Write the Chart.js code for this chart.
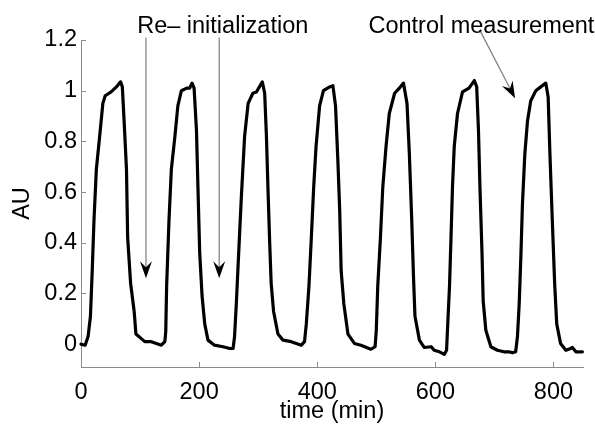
<!DOCTYPE html>
<html><head><meta charset="utf-8">
<script src="https://cdn.jsdelivr.net/npm/chart.js@4"></script>
<style>html,body{margin:0;padding:0;background:#fff}#wrap{width:595px;height:424px;position:relative}</style>
</head><body><div id="wrap"><canvas id="c"></canvas></div>
<script>
// ---- data ----
const timeMin = [0, 7, 12, 16, 19, 22, 26, 32, 37, 41, 51, 60, 67, 70, 73, 77, 79, 84, 90, 93, 108, 119, 136, 142, 143.5, 145, 149, 153, 159, 164, 170, 179, 184, 188, 191.5, 195.5, 198, 201, 205, 209.5, 215, 226, 240.5, 252, 257.5, 260, 263, 267, 271.5, 277, 283, 291, 297, 307, 311, 314, 316.5, 319.5, 322, 326, 333.5, 342, 356, 373, 378.5, 381.5, 386, 390, 394, 398, 404, 410.5, 421, 426.5, 431, 435, 438, 440.5, 445, 452, 463, 474, 491, 498, 500, 502.5, 507, 511, 516.5, 522, 531, 539, 546, 552, 556, 560, 563, 565.5, 573, 581, 593, 598, 607, 615, 619, 621, 624, 626.5, 629, 632, 637.5, 646, 657, 666, 670, 673, 675.5, 679, 681, 685.5, 694, 705, 716, 725, 730.5, 736, 739, 742, 745, 747.5, 751.5, 756, 761.5, 770, 778.5, 787, 791, 794, 798, 802, 805.5, 812, 821, 828, 832, 838, 849];
const au = [0.0, -0.004, 0.03, 0.11, 0.29, 0.49, 0.69, 0.83, 0.95, 0.98, 0.995, 1.015, 1.035, 1.015, 0.88, 0.69, 0.42, 0.24, 0.13, 0.04, 0.01, 0.01, -0.004, 0.01, 0.05, 0.23, 0.49, 0.69, 0.82, 0.94, 1.0, 1.01, 1.01, 1.03, 1.01, 0.845, 0.62, 0.36, 0.19, 0.08, 0.016, -0.004, -0.01, -0.017, -0.017, 0.03, 0.16, 0.36, 0.58, 0.82, 0.95, 0.99, 0.995, 1.035, 0.99, 0.82, 0.62, 0.40, 0.24, 0.13, 0.04, 0.016, 0.01, -0.004, 0.01, 0.08, 0.23, 0.42, 0.62, 0.78, 0.94, 1.0, 1.015, 1.02, 0.94, 0.72, 0.53, 0.29, 0.16, 0.04, 0.003, -0.004, -0.02, -0.01, 0.055, 0.23, 0.42, 0.62, 0.78, 0.91, 0.99, 1.01, 1.03, 0.95, 0.75, 0.49, 0.265, 0.11, 0.016, -0.013, -0.01, -0.024, -0.03, -0.04, -0.024, 0.08, 0.23, 0.42, 0.62, 0.78, 0.91, 0.995, 1.01, 1.04, 1.015, 0.845, 0.62, 0.36, 0.17, 0.055, -0.01, -0.024, -0.03, -0.03, -0.034, -0.03, 0.03, 0.16, 0.36, 0.555, 0.75, 0.88, 0.96, 1.0, 1.015, 1.03, 0.975, 0.75, 0.49, 0.24, 0.08, 0.003, -0.024, -0.018, -0.013, -0.03, -0.03];
const xTicks = [0, 200, 400, 600, 800];
const yTicks = [0, 0.2, 0.4, 0.6, 0.8, 1, 1.2];
const yTickLabels = ['0', '0.2', '0.4', '0.6', '0.8', '1', '1.2'];
const noteTexts = ['Re\u2013 initialization', 'Control measurement'];
const noteX = [240, 678];
const noteY = [1.228, 1.228];
const arrowFromX = [110, 234, 675];
const arrowFromY = [1.21, 1.21, 1.24];
const arrowToX = [110, 234, 735];
const arrowToY = [0.26, 0.26, 0.97];

const FONT = '"Liberation Sans", Arial, Helvetica, sans-serif';
const FS = 23.5;
Chart.defaults.font.family = FONT;
Chart.defaults.color = '#000';

function drawArrow(ctx, x0, y0, x1, y1) {
  const ang = Math.atan2(y1 - y0, x1 - x0);
  const L = 17, W = 6, N = 11;
  ctx.strokeStyle = '#7c7c7c'; ctx.lineWidth = 1.2;
  ctx.beginPath(); ctx.moveTo(x0, y0);
  ctx.lineTo(x1 - N * Math.cos(ang), y1 - N * Math.sin(ang)); ctx.stroke();
  ctx.save(); ctx.translate(x1, y1); ctx.rotate(ang);
  ctx.fillStyle = '#000';
  ctx.beginPath(); ctx.moveTo(0, 0); ctx.lineTo(-L, -W); ctx.lineTo(-N, 0); ctx.lineTo(-L, W);
  ctx.closePath(); ctx.fill();
  ctx.restore();
}

const decor = {
  id: 'decor',
  beforeDatasetsDraw(chart) {
    const {ctx, scales: {x, y}, chartArea: a} = chart;
    ctx.save();
    ctx.strokeStyle = '#8a8a8a'; ctx.lineWidth = 1;
    ctx.beginPath();
    yTicks.forEach(v => { const p = Math.round(y.getPixelForValue(v)) + 0.5; ctx.moveTo(a.left, p); ctx.lineTo(a.left + 5, p); });
    xTicks.forEach(v => { const p = Math.round(x.getPixelForValue(v)) + 0.5; ctx.moveTo(p, a.bottom); ctx.lineTo(p, a.bottom - 5); });
    ctx.stroke();
    ctx.restore();
  },
  afterDatasetsDraw(chart) {
    const {ctx, scales: {x, y}} = chart;
    ctx.save();
    arrowFromX.forEach((_, i) => drawArrow(ctx,
      x.getPixelForValue(arrowFromX[i]), y.getPixelForValue(arrowFromY[i]),
      x.getPixelForValue(arrowToX[i]), y.getPixelForValue(arrowToY[i])));
    ctx.fillStyle = '#000';
    ctx.font = FS + 'px ' + FONT;
    ctx.textAlign = 'center'; ctx.textBaseline = 'alphabetic';
    noteTexts.forEach((t, i) => ctx.fillText(t, x.getPixelForValue(noteX[i]), y.getPixelForValue(noteY[i])));
    ctx.restore();
  }
};

new Chart(document.getElementById('c'), {
  type: 'line',
  data: {
    datasets: [{
      data: timeMin.map((t, i) => ({x: t, y: au[i]})),
      borderColor: '#000', borderWidth: 3.2, pointRadius: 0, tension: 0, fill: false,
      borderJoinStyle: 'round', borderCapStyle: 'round', clip: false
    }]
  },
  options: {
    responsive: true, maintainAspectRatio: false, animation: false,
    devicePixelRatio: 1,
    layout: {padding: {top: 40, right: 12, left: 0, bottom: 0}},
    plugins: {legend: {display: false}, tooltip: {enabled: false}},
    scales: {
      x: {
        type: 'linear', min: 0, max: 850,
        afterBuildTicks: s => { s.ticks = xTicks.map(v => ({value: v})); },
        afterFit: s => { s.height = 57; },
        grid: {display: false, drawTicks: false},
        border: {display: true, color: '#8a8a8a', width: 1},
        ticks: {font: {size: FS}, color: '#000', padding: 11, maxRotation: 0, autoSkip: false,
          callback: v => String(v)},
        title: {display: true, text: 'time (min)', font: {size: FS}, color: '#000', padding: {top: 0, bottom: -2}}
      },
      y: {
        type: 'linear', min: -0.09, max: 1.2,
        afterBuildTicks: s => { s.ticks = yTicks.map(v => ({value: v})); },
        afterFit: s => { s.width = 81; },
        grid: {display: false, drawTicks: false},
        border: {display: true, color: '#8a8a8a', width: 1},
        ticks: {font: {size: FS}, color: '#000', padding: 4, autoSkip: false,
          callback: (v) => { const i = yTicks.indexOf(v); return i >= 0 ? yTickLabels[i] : ''; }},
        title: {display: true, text: 'AU', font: {size: FS}, color: '#000', padding: {top: 8, bottom: 0}}
      }
    }
  },
  plugins: [decor]
});
</script></body></html>
